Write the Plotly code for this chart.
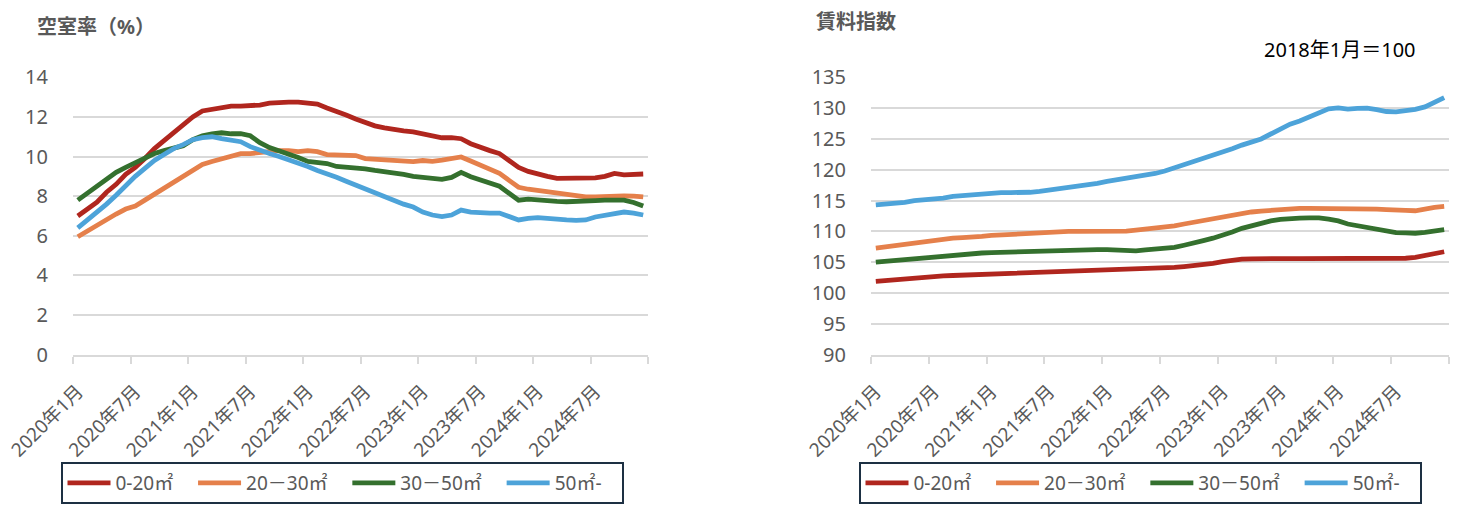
import plotly.graph_objects as go

# ---- data ----
months = [f"{y}年{m}月" for y in range(2020, 2025) for m in range(1, 13)]
tick_labels = ["2020年1月", "2020年7月", "2021年1月", "2021年7月", "2022年1月",
               "2022年7月", "2023年1月", "2023年7月", "2024年1月", "2024年7月"]
series_names = ["0-20㎡", "20－30㎡", "30－50㎡", "50㎡-"]

vac_0_20 = [7.0, 7.35, 7.7, 8.2, 8.6, 9.1, 9.45, 9.9, 10.4, 10.8, 11.2, 11.6,
            12.0, 12.3, 12.4, 12.5, 12.55, 12.55, 12.55, 12.6, 12.7, 12.75, 12.75, 12.75,
            12.7, 12.65, 12.45, 12.3, 12.1, 11.9, 11.7, 11.55, 11.45, 11.35, 11.3, 11.25,
            11.15, 11.0, 10.95, 10.95, 10.9, 10.65, 10.45, 10.3, 10.15, 9.8, 9.45, 9.25,
            9.1, 9.0, 8.9, 8.9, 8.9, 8.88, 8.92, 9.0, 9.15, 9.08, 9.12, 9.12]
vac_20_30 = [5.95, 6.25, 6.55, 6.85, 7.1, 7.35, 7.5, 7.8, 8.1, 8.45, 8.75, 9.05,
             9.35, 9.6, 9.75, 9.9, 10.05, 10.15, 10.15, 10.2, 10.3, 10.3, 10.3, 10.25,
             10.3, 10.25, 10.1, 10.1, 10.1, 10.05, 9.9, 9.87, 9.83, 9.78, 9.74, 9.74,
             9.8, 9.76, 9.82, 9.88, 9.98, 9.78, 9.55, 9.35, 9.15, 8.8, 8.45, 8.35,
             8.28, 8.22, 8.12, 8.1, 8.02, 7.97, 7.97, 8.0, 8.02, 8.02, 8.0, 7.96]
vac_30_50 = [7.8, 8.15, 8.5, 8.85, 9.2, 9.45, 9.7, 9.9, 10.15, 10.3, 10.4, 10.55,
             10.85, 11.05, 11.15, 11.2, 11.15, 11.15, 11.05, 10.7, 10.45, 10.3, 10.15, 9.95,
             9.75, 9.7, 9.65, 9.5, 9.48, 9.45, 9.38, 9.3, 9.25, 9.18, 9.1, 9.0,
             8.95, 8.9, 8.85, 8.95, 9.2, 8.98, 8.8, 8.65, 8.5, 8.15, 7.8, 7.85,
             7.8, 7.78, 7.74, 7.72, 7.72, 7.74, 7.78, 7.8, 7.82, 7.8, 7.68, 7.5]
vac_50 = [6.4, 6.8, 7.15, 7.6, 8.05, 8.55, 9.0, 9.4, 9.8, 10.1, 10.4, 10.6,
          10.85, 10.95, 11.0, 10.9, 10.8, 10.75, 10.5, 10.3, 10.15, 10.0, 9.85, 9.7,
          9.5, 9.3, 9.15, 8.95, 8.75, 8.55, 8.35, 8.2, 8.0, 7.8, 7.6, 7.45,
          7.2, 7.05, 6.97, 7.05, 7.3, 7.2, 7.15, 7.15, 7.15, 7.0, 6.8, 6.88,
          6.92, 6.88, 6.82, 6.8, 6.78, 6.8, 6.95, 7.05, 7.15, 7.2, 7.15, 7.05]

rent_0_20 = [101.9, 102.05, 102.2, 102.35, 102.5, 102.65, 102.75, 102.8, 102.85, 102.9, 102.95, 103.0,
             103.05, 103.15, 103.25, 103.3, 103.3, 103.35, 103.45, 103.5, 103.5, 103.55, 103.6, 103.65,
             103.7, 103.7, 103.75, 103.8, 103.85, 103.9, 104.0, 104.15, 104.3, 104.45, 104.65, 104.8,
             105.1, 105.35, 105.5, 105.55, 105.6, 105.6, 105.6, 105.6, 105.6, 105.6, 105.6, 105.6,
             105.6, 105.6, 105.6, 105.6, 105.6, 105.6, 105.6, 105.65, 105.8, 106.1, 106.4, 106.7]
rent_20_30 = [107.3, 107.5, 107.7, 107.9, 108.2, 108.4, 108.55, 108.7, 108.9, 109.0, 109.05, 109.2,
              109.35, 109.45, 109.55, 109.65, 109.75, 109.8, 109.9, 109.95, 110.0, 110.0, 110.0, 110.0,
              110.0, 109.95, 110.05, 110.2, 110.35, 110.5, 110.7, 110.9, 111.2, 111.5, 111.75, 111.95,
              112.3, 112.65, 113.0, 113.15, 113.3, 113.45, 113.6, 113.7, 113.75, 113.75, 113.75, 113.75,
              113.75, 113.75, 113.7, 113.65, 113.6, 113.55, 113.55, 113.4, 113.35, 113.7, 113.9, 114.05]
rent_30_50 = [105.0, 105.15, 105.25, 105.35, 105.55, 105.7, 105.8, 105.9, 106.05, 106.2, 106.35, 106.5,
              106.55, 106.6, 106.6, 106.65, 106.8, 106.9, 106.95, 107.0, 107.05, 107.05, 107.05, 107.05,
              107.05, 107.0, 106.85, 106.85, 107.0, 107.1, 107.25, 107.4, 107.75, 108.05, 108.5, 108.9,
              109.35, 109.9, 110.5, 110.95, 111.3, 111.7, 111.95, 112.1, 112.15, 112.2, 112.2, 112.0,
              111.7, 111.2, 110.9, 110.6, 110.3, 110.0, 109.8, 109.75, 109.7, 109.85, 110.05, 110.3]
rent_50 = [114.3, 114.4, 114.45, 114.7, 115.0, 115.1, 115.2, 115.4, 115.7, 115.85, 115.85, 116.1,
           116.2, 116.3, 116.3, 116.3, 116.35, 116.5, 116.7, 116.95, 117.2, 117.4, 117.55, 117.8,
           118.1, 118.35, 118.6, 118.9, 119.05, 119.4, 119.8, 120.3, 120.7, 121.2, 121.9, 122.4,
           122.9, 123.4, 124.0, 124.5, 125.0, 125.8, 126.6, 127.4, 127.9, 128.6, 129.4, 129.9,
           130.05, 129.85, 129.95, 130.0, 129.75, 129.45, 129.4, 129.6, 129.8, 130.2, 130.9, 131.7]

vac_ticks = [0, 2, 4, 6, 8, 10, 12, 14]
rent_ticks = [90, 95, 100, 105, 110, 115, 120, 125, 130, 135]

colors = ["#B0261E", "#E5804B", "#34702E", "#4DA3D9"]

# ---- figure ----
FONT = "Noto Sans, Noto Sans CJK JP, sans-serif"
GREY = "#595959"
GRID = "#D9D9D9"
PAD = "\u00a0\u00a0\u00a0"  # extra spacing after each legend entry

idx = list(range(len(months)))
tick_idx = [months.index(t) for t in tick_labels]
boundaries = [i - 0.5 for i in range(0, len(months) + 1, 6)]

fig = go.Figure()
vac = [vac_0_20, vac_20_30, vac_30_50, vac_50]
rent = [rent_0_20, rent_20_30, rent_30_50, rent_50]
for name, c, v in zip(series_names, colors, vac):
    fig.add_trace(go.Scatter(x=idx, y=v, name=name + PAD, mode="lines",
                             line=dict(color=c, width=4.8), xaxis="x", yaxis="y",
                             legend="legend"))
for name, c, v in zip(series_names, colors, rent):
    fig.add_trace(go.Scatter(x=idx, y=v, name=name + PAD, mode="lines",
                             line=dict(color=c, width=4.8), xaxis="x2", yaxis="y2",
                             legend="legend2"))

def xaxis(domain, anchor):
    return dict(domain=domain, anchor=anchor, range=[-0.5, len(months) - 0.5],
                automargin=False,
                tickmode="array", tickvals=tick_idx, ticktext=tick_labels,
                tickangle=-45, ticks="", showgrid=False, zeroline=False,
                showline=True, linecolor=GRID, linewidth=2,
                tickfont=dict(family=FONT, size=19, color=GREY),
                ticklabelstandoff=16,
                minor=dict(tickmode="array", tickvals=boundaries, ticks="outside",
                           ticklen=7, tickcolor=GRID, tickwidth=2, showgrid=False))

def yaxis(domain, anchor, rng, ticks):
    return dict(domain=domain, anchor=anchor, range=rng, tickmode="array",
                automargin=False,
                tickvals=ticks, showgrid=True, gridcolor=GRID, gridwidth=2,
                zeroline=False, showline=False, ticks="",
                tickfont=dict(family=FONT, size=20, color=GREY),
                ticklabelstandoff=24)

ydom = [1 - 354.7 / 516, 1 - 77.3 / 516]
legend_common = dict(orientation="h", yanchor="top", xanchor="center",
                     bordercolor="#1D3043", borderwidth=2, bgcolor="white",
                     font=dict(family=FONT, size=19, color=GREY),
                     itemwidth=43, tracegroupgap=0)

fig.update_layout(
    template="none",
    width=1476, height=516,
    margin=dict(l=0, r=0, t=0, b=0, autoexpand=False),
    paper_bgcolor="white", plot_bgcolor="white",
    xaxis=xaxis([73 / 1476, 648 / 1476], "y"),
    yaxis=yaxis(ydom, "x", [0, 14], vac_ticks),
    xaxis2=xaxis([871 / 1476, 1449 / 1476], "y2"),
    yaxis2=yaxis(ydom, "x2", [90, 135], rent_ticks),
    legend=dict(x=342 / 1476, y=1 - 462 / 516, **legend_common),
    legend2=dict(x=1140 / 1476, y=1 - 462 / 516, **legend_common),
    annotations=[
        dict(text="<b>空室率（%）</b>", x=35 / 1476, y=1 - 27 / 516, xref="paper", yref="paper",
             xanchor="left", yanchor="middle", showarrow=False,
             font=dict(family=FONT, size=20, color=GREY)),
        dict(text="<b>賃料指数</b>", x=814 / 1476, y=1 - 22 / 516, xref="paper", yref="paper",
             xanchor="left", yanchor="middle", showarrow=False,
             font=dict(family=FONT, size=20, color=GREY)),
        dict(text="2018年1月＝100", x=1262 / 1476, y=1 - 50 / 516, xref="paper", yref="paper",
             xanchor="left", yanchor="middle", showarrow=False,
             font=dict(family=FONT, size=20, color="black")),
    ],
    showlegend=True,
)

fig.write_html("out.html", config={"displayModeBar": False})

# remove the default page margin so the figure sits at the window origin
with open("out.html", encoding="utf-8") as f:
    html = f.read()
html = html.replace("<body>", '<body style="margin:0;padding:0;overflow:hidden">', 1)
with open("out.html", "w", encoding="utf-8") as f:
    f.write(html)
